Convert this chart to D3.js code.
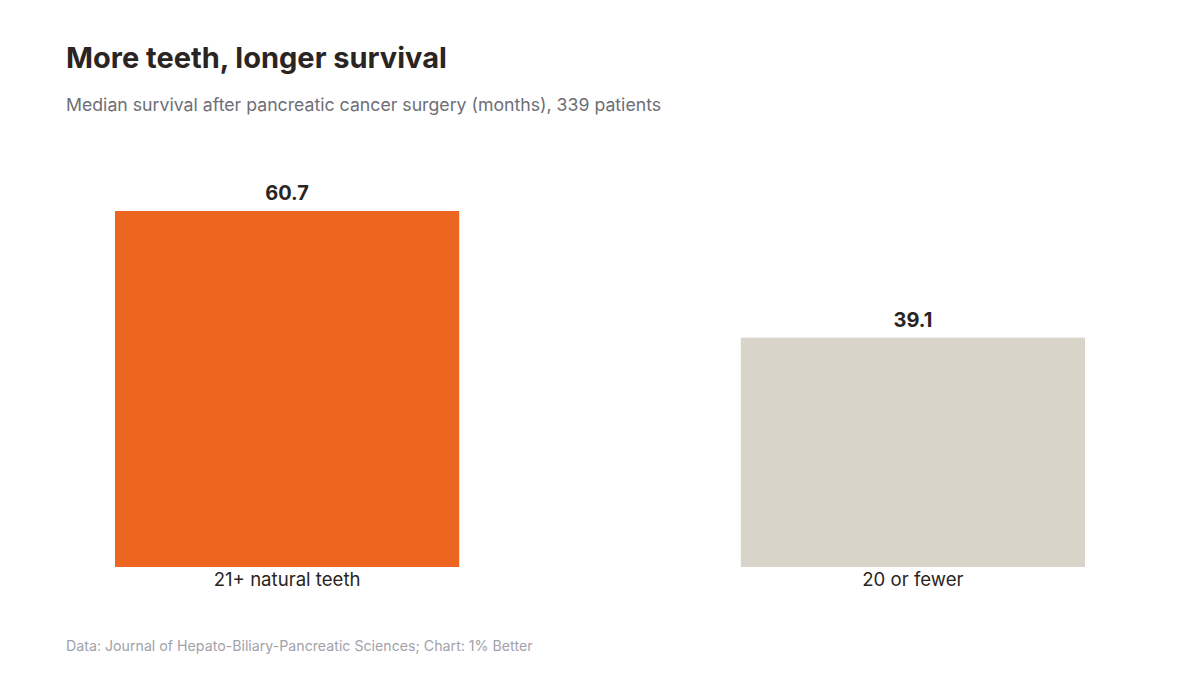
<!DOCTYPE html>
<html>
<head>
<meta charset="utf-8">
<script src="https://cdn.jsdelivr.net/npm/d3@7"></script>
<style>
  body { margin: 0; background: #fff; }
  svg { display: block; font-family: Inter, "Noto Sans", sans-serif; }
</style>
</head>
<body>
<svg id="chart"></svg>
<script>
// data
var categories = ["21+ natural teeth", "20 or fewer"];
var survivalMonths = [60.7, 39.1];
var barColors = ["#EC6620", "#D9D4CA"];

var width = 1200, height = 675;
var baseline = 567, topY = 211;

var svg = d3.select('#chart')
    .attr('width', width)
    .attr('height', height);

svg.append('text')
    .attr('x', 66).attr('y', 68)
    .attr('font-size', 29).attr('font-weight', 700)
    .attr('fill', '#2a2522')
    .text('More teeth, longer survival');

svg.append('text')
    .attr('x', 66).attr('y', 111)
    .attr('font-size', 17.7)
    .attr('fill', '#6e6e76')
    .text('Median survival after pancreatic cancer surgery (months), 339 patients');

var x = d3.scaleBand()
    .domain(categories)
    .range([115, 1085])
    .paddingInner(0.45)
    .paddingOuter(0);

var y = d3.scaleLinear()
    .domain([0, d3.max(survivalMonths)])
    .range([baseline, topY]);

var rows = categories.map(function(c, i){ return {cat: c, val: survivalMonths[i], color: barColors[i]}; });

var g = svg.append('g');

g.selectAll('rect.bar')
    .data(rows)
    .enter()
    .append('rect')
    .attr('class', 'bar')
    .attr('x', function(d){ return x(d.cat); })
    .attr('y', function(d){ return y(d.val); })
    .attr('width', x.bandwidth())
    .attr('height', function(d){ return baseline - y(d.val); })
    .attr('fill', function(d){ return d.color; });

g.selectAll('text.val')
    .data(rows)
    .enter()
    .append('text')
    .attr('class', 'val')
    .attr('x', function(d){ return x(d.cat) + x.bandwidth() / 2; })
    .attr('y', function(d){ return y(d.val) - 11; })
    .attr('text-anchor', 'middle')
    .attr('font-size', 20).attr('font-weight', 700)
    .attr('fill', '#2a2522')
    .text(function(d){ return d3.format('.1f')(d.val); });

g.selectAll('text.cat')
    .data(rows)
    .enter()
    .append('text')
    .attr('class', 'cat')
    .attr('x', function(d){ return x(d.cat) + x.bandwidth() / 2; })
    .attr('y', baseline + 19)
    .attr('text-anchor', 'middle')
    .attr('font-size', 18.6)
    .attr('fill', '#2a2522')
    .text(function(d){ return d.cat; });

svg.append('text')
    .attr('x', 66).attr('y', 651)
    .attr('font-size', 14.2)
    .attr('fill', '#a2a2aa')
    .text('Data: Journal of Hepato-Biliary-Pancreatic Sciences; Chart: 1% Better');
</script>
</body>
</html>
